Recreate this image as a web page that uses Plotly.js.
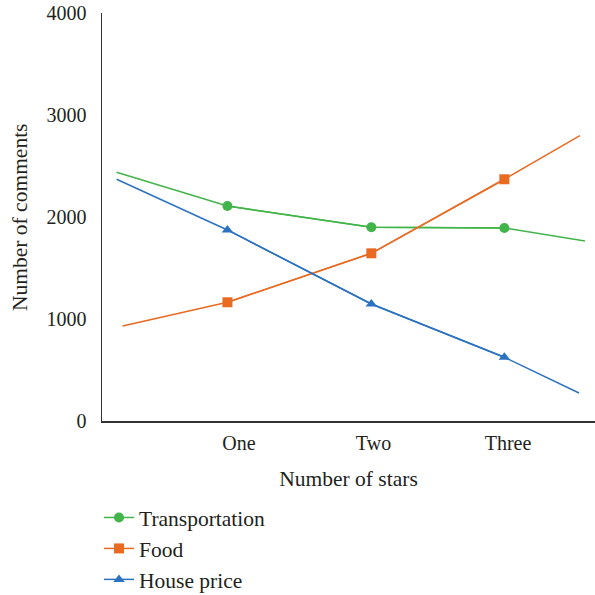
<!DOCTYPE html>
<html>
<head>
<meta charset="utf-8">
<script src="https://cdn.plot.ly/plotly-3.0.1.min.js"></script>
<style>html,body{margin:0;padding:0;background:#fff}#chart{width:595px;height:595px}</style>
</head>
<body>
<div id="chart"></div>
<script>
// Category tick labels at positions 1,2,3
var tickPositions = [1, 2, 3];
var tickLabels = ["One", "Two", "Three"];

// Full line extents (line runs beyond the markers at both ends)
var transportX = [0.09, 0.914, 1.984, 2.973, 3.572];
var transportY = [2438, 2108, 1899, 1892, 1765];
var foodX = [0.135, 0.914, 1.984, 2.973, 3.535];
var foodY = [931, 1164, 1644, 2370, 2797];
var houseX = [0.09, 0.914, 1.984, 2.973, 3.528];
var houseY = [2370, 1873, 1147, 625, 275];

var names = ["Transportation", "Food", "House price"];
var colors = ["#41b549", "#e96a21", "#2b72c0"];
var symbols = ["circle", "square", "triangle-up"];
var xs = [transportX, foodX, houseX];
var ys = [transportY, foodY, houseY];

var traces = [];
for (var i = 0; i < 3; i++) {
  traces.push({
    x: xs[i], y: ys[i], mode: "lines", type: "scatter",
    line: {color: colors[i], width: 1.5},
    showlegend: false, hoverinfo: "skip"
  });
  traces.push({
    x: xs[i].slice(1, 4), y: ys[i].slice(1, 4), mode: "lines+markers", type: "scatter",
    name: names[i], legendgroup: "g" + i,
    line: {color: colors[i], width: 1.5},
    marker: {color: colors[i], symbol: symbols[i], size: 10}
  });
}

var fam = "Liberation Serif, Times New Roman, serif";
var tickFnt = {family: fam, size: 20, color: "#231f20"};
var bigFnt = {family: fam, size: 21.5, color: "#231f20"};

var layout = {
  width: 595, height: 595,
  margin: {l: 102, r: 0, t: 13, b: 174, autoexpand: false},
  paper_bgcolor: "#fff", plot_bgcolor: "#fff",
  font: tickFnt,
  showlegend: true,
  legend: {
    xref: "container", yref: "container",
    x: 99 / 595, y: 1 - 497 / 595, xanchor: "left", yanchor: "top",
    font: bigFnt, traceorder: "grouped", tracegroupgap: 0,
    bgcolor: "rgba(0,0,0,0)"
  },
  xaxis: {
    range: [-0.0186, 3.647],
    tickvals: tickPositions, ticktext: tickLabels,
    showgrid: false, zeroline: false, automargin: false,
    showline: true, linecolor: "#333", linewidth: 1.5,
    ticks: "outside", ticklen: 3, tickcolor: "rgba(0,0,0,0)",
    tickfont: tickFnt,
    title: {text: "Number of stars", font: bigFnt, standoff: 18}
  },
  yaxis: {
    range: [0, 4000],
    tickvals: [0, 1000, 2000, 3000, 4000],
    showgrid: false, zeroline: false, automargin: false,
    showline: true, linecolor: "#333", linewidth: 1.5,
    ticks: "outside", ticklen: 10, tickcolor: "rgba(0,0,0,0)",
    tickfont: tickFnt
  },
  annotations: [{
    text: "Number of comments", textangle: -90,
    xref: "paper", yref: "paper", x: (20 - 102) / 493, y: 0.5,
    xanchor: "center", yanchor: "middle", showarrow: false, font: bigFnt
  }]
};

Plotly.newPlot("chart", traces, layout, {displayModeBar: false, staticPlot: true});
</script>
</body>
</html>
